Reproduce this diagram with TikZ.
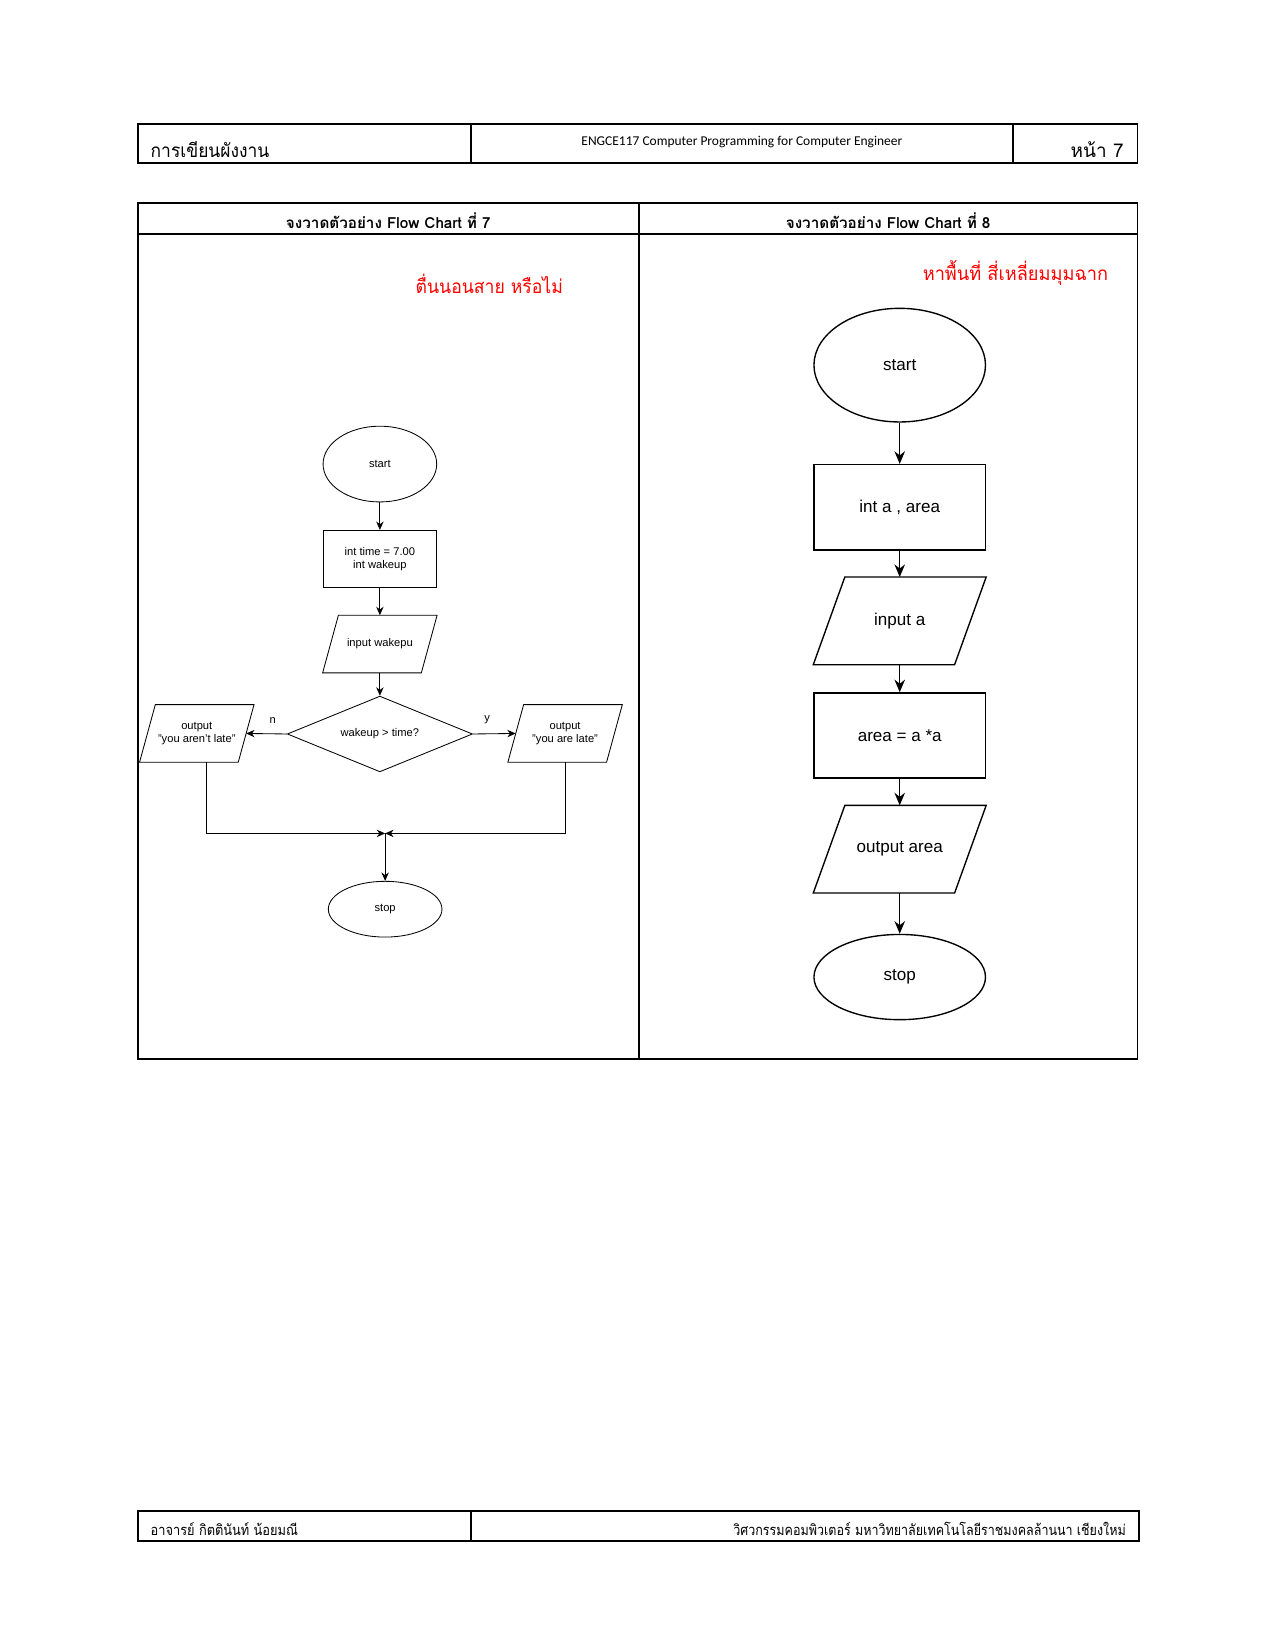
\documentclass[tikz,border=0pt]{standalone}
\usepackage{fontspec}
\setmainfont{Liberation Sans}
\newfontfamily\thai[Script=Thai]{Loma}
\newfontfamily\carl{Carlito}
\usetikzlibrary{shapes.geometric,arrows.meta}
\newcommand\mypar[3]{\draw[#3] ([xshift=#2]#1.north west) -- (#1.north east) -- ([xshift=-#2]#1.south east) -- (#1.south west) -- cycle;}
\begin{document}
\begin{tikzpicture}[x=1pt,y=-1pt,
  tbl/.style={line width=1.8pt},
  fa/.style={draw, line width=0.8pt, align=center, inner sep=0pt, font=\fontsize{10.6}{12.5}\selectfont},
  termA/.style={fa, ellipse, minimum width=108pt, minimum height=72pt},
  procA/.style={fa, rectangle, minimum width=108pt, minimum height=54pt},
  ioA/.style={fa, draw=none, rectangle, minimum width=108pt, minimum height=54pt},
  linA/.style={line width=0.8pt},
  decA/.style={fa, diamond, aspect=2.44, minimum width=176pt, minimum height=72pt},
  arA/.style={-{Stealth[length=8pt,width=7pt]}, line width=0.8pt},
  fb/.style={draw, line width=1.3pt, align=center, inner sep=0pt, font=\fontsize{16.2}{19}\selectfont},
  termB/.style={fb, ellipse, minimum width=163pt},
  procB/.style={fb, rectangle, minimum width=163pt, minimum height=81pt},
  ioB/.style={fb, draw=none, rectangle, minimum width=163pt, minimum height=82pt},
  linB/.style={line width=1.3pt, line join=miter},
  arB/.style={-{Stealth[length=12pt,width=10pt]}, line width=1.3pt},
  th/.style={font=\thai\fontsize{18}{18}\selectfont}
]
\useasboundingbox (0,0) rectangle (1212,1568);
% header table
\draw[tbl] (131,118) rectangle (1081,155);
\draw[tbl] (448,118) -- (448,155);
\draw[tbl] (963,118) -- (963,155);
\node[th, anchor=base west, inner sep=0pt] (h1) at (143,150) {\scalebox{0.92}[1]{การเขียนผังงาน}};
\node[font=\carl\fontsize{12.8}{13}\selectfont, anchor=base, inner sep=0pt] (h2) at (705,138) {ENGCE117 Computer Programming for Computer Engineer};
\node[th, anchor=base east, inner sep=0pt] (h3) at (1068,150) {หน้า 7};
% main table
\draw[tbl] (131,193) rectangle (1081,1006);
\draw[tbl] (131,222) -- (1081,222);
\draw[tbl] (607,193) -- (607,1006);
\node[font=\thai\bfseries\fontsize{14.5}{14.5}\selectfont, anchor=base, inner sep=0pt] (c1) at (369,217.5) {จงวาดตัวอย่าง Flow Chart ที่ 7};
\node[font=\thai\bfseries\fontsize{14.5}{14.5}\selectfont, anchor=base, inner sep=0pt] (c2) at (844,217.5) {จงวาดตัวอย่าง Flow Chart ที่ 8};
\node[th, red, anchor=base, inner sep=0pt] (r1) at (465,279) {\scalebox{0.93}[1]{ตื่นนอนสาย หรือไม่}};
\node[th, red, anchor=base, inner sep=0pt] (r2) at (965,267) {\scalebox{0.96}[1]{หาพื้นที่ สี่เหลี่ยมมุมฉาก}};
% left flowchart
\node[termA] (s1) at (361,441) {start};
\node[procA] (b1) at (361,531) {int time = 7.00\\int wakeup};
\node[ioA] (i1) at (361,612) {input wakepu};
\mypar{i1}{15pt}{linA}
\node[decA] (d1) at (361,697.5) {wakeup \textgreater{} time?};
\node[ioA] (pl) at (187,697) {output\\"you aren't late"};
\mypar{pl}{15pt}{linA}
\node[ioA] (pr) at (537,697) {output\\"you are late"};
\mypar{pr}{15pt}{linA}
\node[fa, ellipse, minimum width=108pt, minimum height=53pt] (e1) at (366,864) {stop};
\coordinate (m) at (366,792);
\draw[arA] (s1) -- (b1);
\draw[arA] (b1) -- (i1);
\draw[arA] ([xshift=0pt]i1.south) -- (d1);
\draw[arA] (d1.west) -- node[pos=0.35, above=9pt, font=\fontsize{10.5}{12}\selectfont, inner sep=0pt] (ln) {n} ([xshift=-7.5pt]pl.east);
\draw[arA] (d1.east) -- node[pos=0.33, above=9pt, font=\fontsize{10.5}{12}\selectfont, inner sep=0pt] (ly) {y} ([xshift=7.5pt]pr.west);
\draw[arA] ([xshift=9pt]pl.south) |- (m);
\draw[arA] (pr.south) |- (m);
\draw[arA] (m) -- (e1);
% right flowchart
\node[termB, minimum height=108pt] (s2) at (855,347) {start};
\node[procB] (b2) at (855,482) {int a , area};
\node[ioB] (i2) at (855,590) {input a};
\mypar{i2}{30pt}{linB}
\node[procB] (b3) at (855,699) {area = a *a};
\node[ioB] (o2) at (855,807) {output area};
\mypar{o2}{30pt}{linB}
\node[termB, minimum height=81pt] (e2) at (855,928.5) {stop};
\draw[arB] (s2) -- (b2);
\draw[arB] (b2) -- (i2);
\draw[arB] (i2) -- (b3);
\draw[arB] (b3) -- (o2);
\draw[arB] (o2) -- (e2);
% footer
\draw[tbl] (131,1436) rectangle (1082,1464);
\draw[tbl] (448,1436) -- (448,1464);
\node[font=\thai\fontsize{14}{14}\selectfont, anchor=base west, inner sep=0pt] (f1) at (143,1459) {\scalebox{0.87}[1]{อาจารย์ กิตตินันท์ น้อยมณี}};
\node[font=\thai\fontsize{14}{14}\selectfont, anchor=base east, inner sep=0pt] (f2) at (1070,1459) {\scalebox{0.85}[1]{วิศวกรรมคอมพิวเตอร์ มหาวิทยาลัยเทคโนโลยีราชมงคลล้านนา เชียงใหม่}};
\end{tikzpicture}
\end{document}
